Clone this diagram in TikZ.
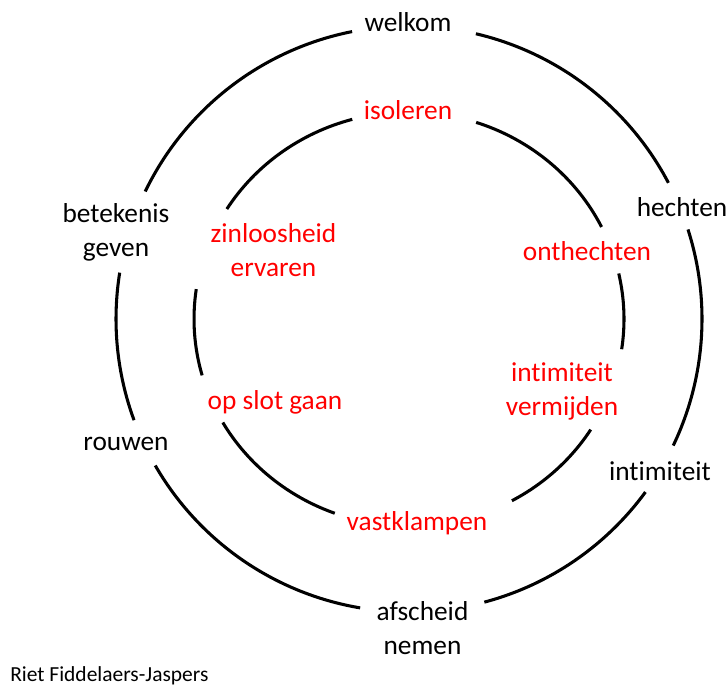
\documentclass[tikz,border=0pt]{standalone}
\usepackage{fontspec}
\setmainfont{Carlito}[Ligatures={NoCommon},RawFeature={-liga;-dlig}]
\begin{document}
\begin{tikzpicture}[x=0.75pt,y=0.75pt,
  ring/.style={line width=2.3pt,black},
  lbl/.style={inner sep=0pt,align=center,font=\fontsize{20.5}{25.5}\selectfont},
  blk/.style={lbl,text=black},
  rd/.style={lbl,text=red},
  credit/.style={inner sep=0pt,anchor=west,font=\fontsize{16.1}{19}\selectfont}]
\useasboundingbox (0,0) rectangle (728,687);
\coordinate (c) at (409,368);
% outer ring (circle)
\foreach \a/\b in {27.7/76.8, -25.6/17.8, -75.1/-36.2, 210/260.4, 170.9/200.2, 101.2/154.2}{
  \draw[ring] ([shift={(\a:293)}]c) arc[start angle=\a, end angle=\b, radius=293];
}
% inner ring (ellipse)
\foreach \a/\b in {26.4/71.8, -8.4/12.7, -61.4/-32.3, 210/249.8, 171.7/195.8, 105.3/147.9}{
  \draw[ring] ([shift={(\a:215 and 207)}]c) arc[start angle=\a, end angle=\b, x radius=215, y radius=207];
}
% outer labels
\node[blk] (welkom) at (408,665) {welkom};
\node[blk] (hechten) at (682,480) {hechten};
\node[blk] (intimiteit) at (660,216) {intimiteit};
\node[blk] (afscheid) at (422.5,59) {afscheid\\nemen};
\node[blk] (rouwen) at (126,243) {rouwen};
\node[blk] (betekenis) at (116,454.5) {betekenis\\geven};
% inner labels
\node[rd] (isoleren) at (408,577) {isoleren};
\node[rd] (onthechten) at (587,436) {onthechten};
\node[rd] (vermijden) at (562,296) {intimiteit\\vermijden};
\node[rd] (vastklampen) at (417,164) {vastklampen};
\node[rd] (opslot) at (275,285) {op slot gaan};
\node[rd] (zinloos) at (273.5,437) {zinloosheid\\ervaren};
% credit
\node[credit] (credit) at (10,11) {Riet Fiddelaers-Jaspers};
\end{tikzpicture}
\end{document}
